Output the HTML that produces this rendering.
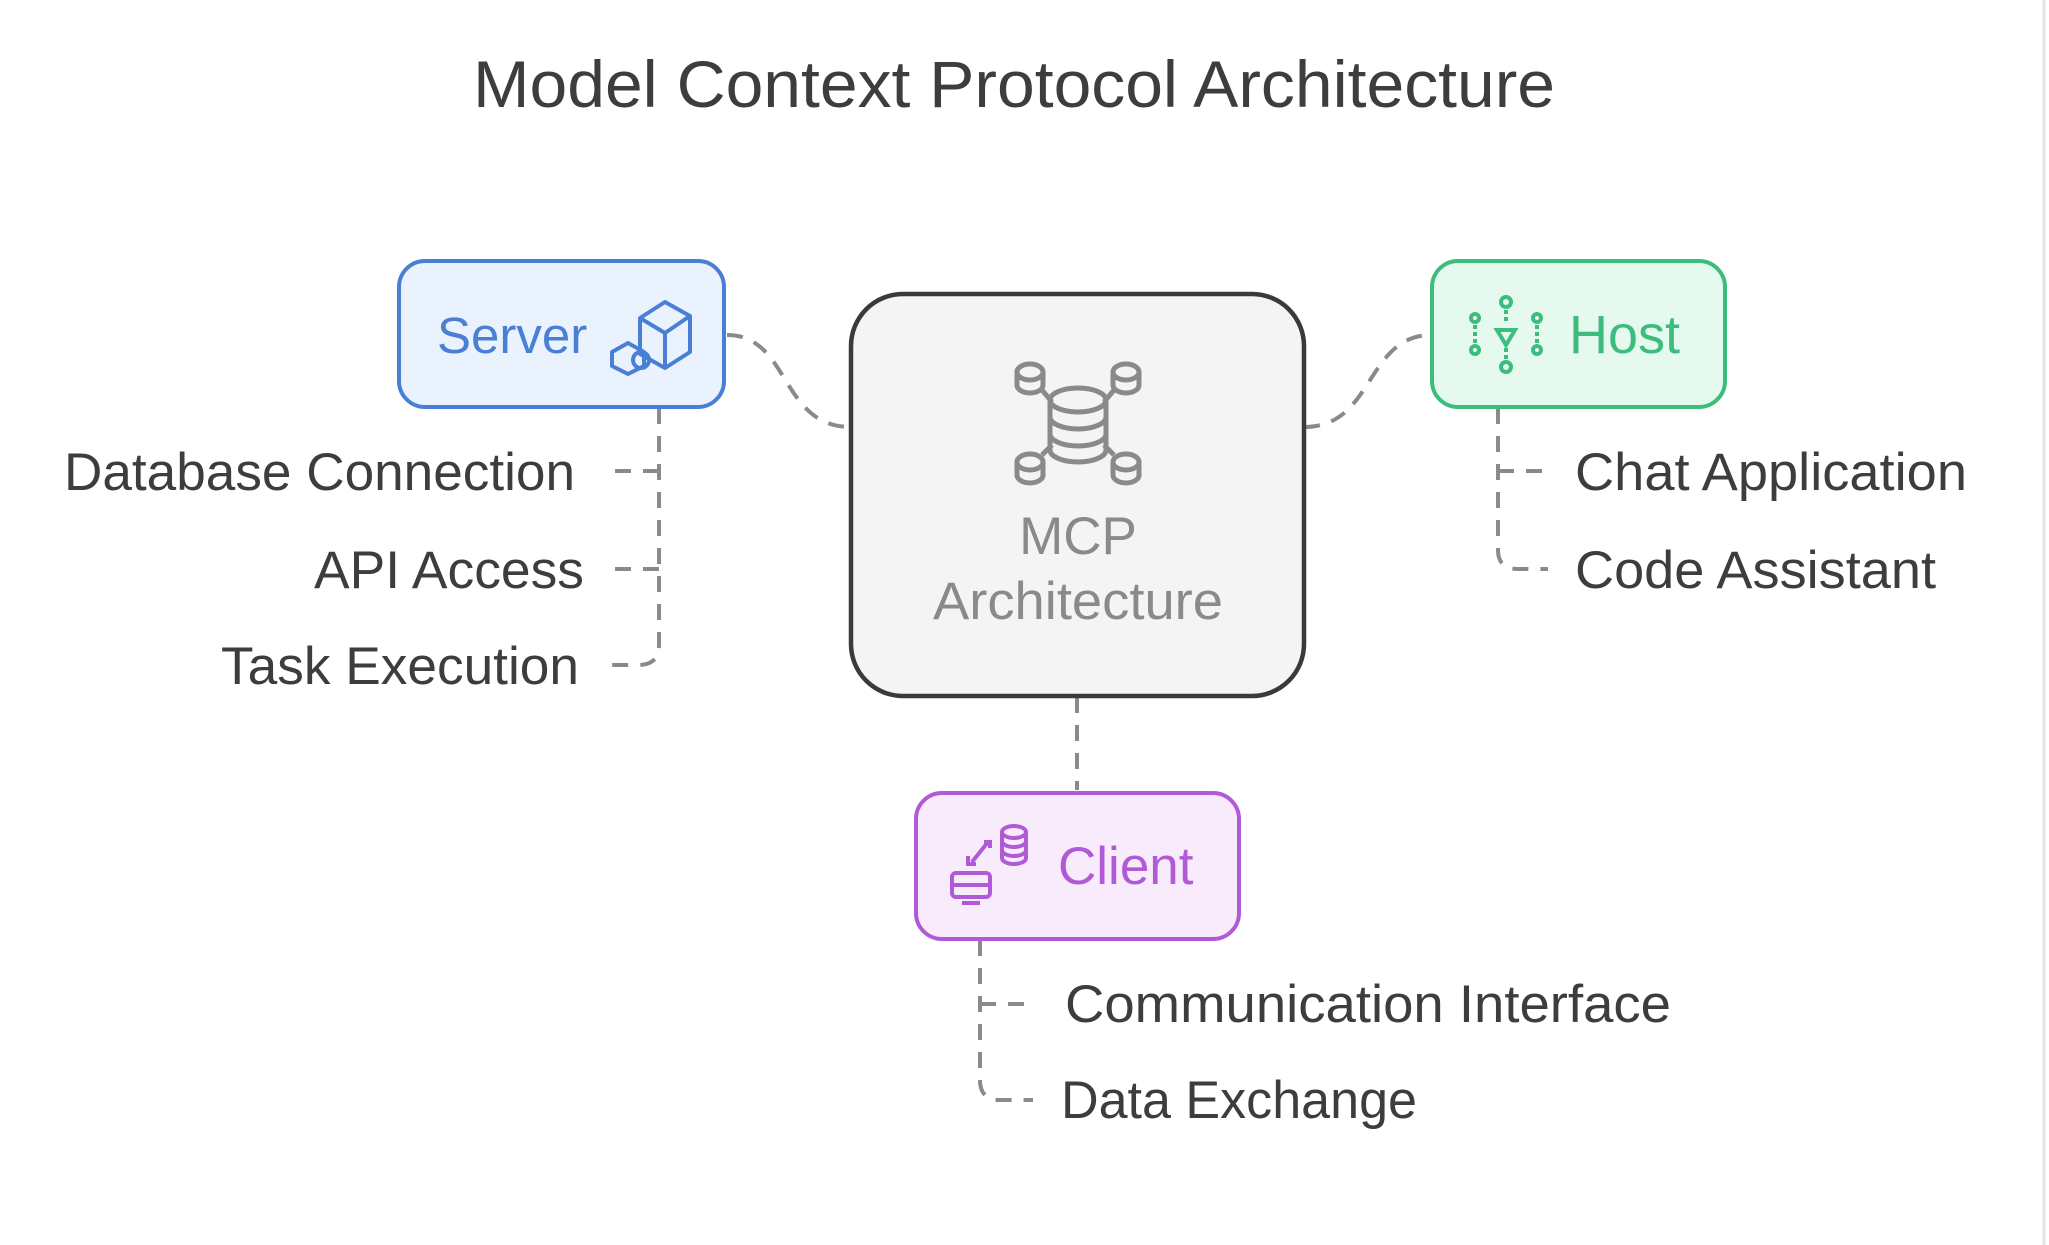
<!DOCTYPE html>
<html><head><meta charset="utf-8"><style>
html,body{margin:0;padding:0;background:#fff;}
svg{display:block}
text{font-family:"Liberation Sans",sans-serif;}
</style></head><body>
<svg width="2049" height="1245" viewBox="0 0 2049 1245" xmlns="http://www.w3.org/2000/svg">
<rect width="2049" height="1245" fill="#fff"/>
<line x1="2044" y1="0" x2="2044" y2="1245" stroke="#e4e4e4" stroke-width="3"/>
<text x="1014" y="107" font-size="66" fill="#3d3d3d" text-anchor="middle" textLength="1082" lengthAdjust="spacingAndGlyphs">Model Context Protocol Architecture</text>

<g fill="none" stroke="#8a8a8a" stroke-width="4" stroke-dasharray="16 12">
<path d="M727 335 C790 335 780 427 851 427"/>
<path d="M1304 427 C1375 427 1365 335 1432 335"/>
<path d="M1077 697 V790"/>
<path d="M659 408 V645 Q659 665 638 665 H605"/>
<path d="M659 471 H608"/>
<path d="M659 569 H608"/>
<path d="M1498 408 V550 Q1498 569 1518 569 H1548"/>
<path d="M1498 471 H1548"/>
<path d="M980 940 V1080 Q980 1100 1000 1100 H1033"/>
<path d="M980 1004 H1033"/>
</g>

<rect x="399" y="261" width="325" height="146" rx="26" fill="#eaf2fd" stroke="#4a7fd6" stroke-width="4"/>
<text x="437" y="353" font-size="51" fill="#4a7fd6">Server</text>
<g fill="none" stroke="#4a7fd6" stroke-width="4" stroke-linejoin="round">
<path d="M640 318 L665 302 L690 316 L690 352 L665 368 L640 354 Z M640 318 L665 333 L690 316 M665 333 V368"/>
<path d="M612 352 L628 343 L644 352 L644 366 L628 374 L612 366 Z"/>
<circle cx="641" cy="360" r="8"/>
</g>

<rect x="851" y="294" width="453" height="402" rx="52" fill="#f4f4f4" stroke="#3a3a3a" stroke-width="4.5"/>
<g fill="none" stroke="#8a8a8a" stroke-width="5">
<ellipse cx="1030" cy="372" rx="13" ry="8"/><path d="M1017 372 V385 A13 8 0 0 0 1043 385 V372"/>
<ellipse cx="1126" cy="372" rx="13" ry="8"/><path d="M1113 372 V385 A13 8 0 0 0 1139 385 V372"/>
<ellipse cx="1030" cy="462" rx="13" ry="8"/><path d="M1017 462 V475 A13 8 0 0 0 1043 475 V462"/>
<ellipse cx="1126" cy="462" rx="13" ry="8"/><path d="M1113 462 V475 A13 8 0 0 0 1139 475 V462"/>
<ellipse cx="1078" cy="400" rx="28" ry="12"/>
<path d="M1050 400 V450 A28 12 0 0 0 1106 450 V400 M1050 417 A28 12 0 0 0 1106 417 M1050 434 A28 12 0 0 0 1106 434"/>
<path d="M1042 390 L1052 402 M1114 390 L1104 402 M1042 455 L1052 445 M1114 455 L1104 445"/>
</g>
<text x="1078" y="554" font-size="53" fill="#8a8a8a" text-anchor="middle">MCP</text>
<text x="1078" y="619" font-size="53" fill="#8a8a8a" text-anchor="middle" textLength="290" lengthAdjust="spacingAndGlyphs">Architecture</text>

<rect x="1432" y="261" width="293" height="146" rx="26" fill="#e5f9ee" stroke="#3dbd7d" stroke-width="4"/>
<text x="1569" y="353" font-size="54" fill="#3dbd7d">Host</text>
<g fill="none" stroke="#3dbd7d" stroke-width="4">
<circle cx="1506" cy="302" r="5"/><circle cx="1506" cy="367" r="5"/>
<circle cx="1475" cy="318" r="4"/><circle cx="1537" cy="318" r="4"/>
<circle cx="1475" cy="350" r="4"/><circle cx="1537" cy="350" r="4"/>
<path d="M1497 330 L1515 330 L1506 345 Z" />
<path d="M1506 310 V322 M1506 348 V360 M1475 325 V343 M1537 325 V343" stroke-dasharray="4 3"/>
</g>

<rect x="916" y="793" width="323" height="146" rx="26" fill="#f8ecfc" stroke="#b05ad8" stroke-width="4"/>
<text x="1058" y="884" font-size="53" fill="#b05ad8">Client</text>
<g fill="none" stroke="#b05ad8" stroke-width="4">
<rect x="952" y="873" width="38" height="24" rx="4"/><path d="M952 885 H990 M962 903 H980"/>
<ellipse cx="1014" cy="832" rx="12" ry="6"/><path d="M1002 832 V858 A12 6 0 0 0 1026 858 V832 M1002 841 A12 6 0 0 0 1026 841 M1002 850 A12 6 0 0 0 1026 850"/>
<path d="M972 862 L988 842 M984 842 H990 V848 M968 856 V864 H976"/>
</g>

<g font-size="53" fill="#3d3d3d">
<text x="575" y="490" text-anchor="end" textLength="511" lengthAdjust="spacingAndGlyphs">Database Connection</text>
<text x="584" y="588" text-anchor="end" textLength="270" lengthAdjust="spacingAndGlyphs">API Access</text>
<text x="579" y="684" text-anchor="end" textLength="358" lengthAdjust="spacingAndGlyphs">Task Execution</text>
<text x="1575" y="490" textLength="392" lengthAdjust="spacingAndGlyphs">Chat Application</text>
<text x="1575" y="588" textLength="361" lengthAdjust="spacingAndGlyphs">Code Assistant</text>
<text x="1065" y="1022" textLength="606" lengthAdjust="spacingAndGlyphs">Communication Interface</text>
<text x="1061" y="1118" textLength="356" lengthAdjust="spacingAndGlyphs">Data Exchange</text>
</g>
</svg>
</body></html>
